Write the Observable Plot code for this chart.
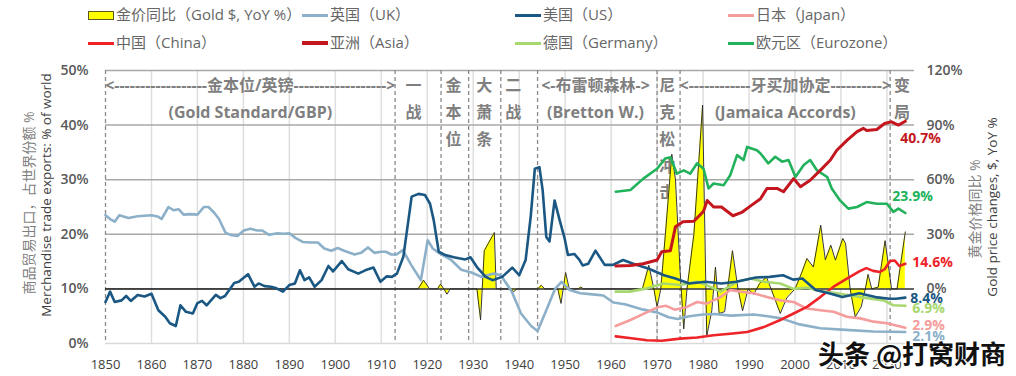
<!DOCTYPE html>
<html>
<head>
<meta charset="utf-8">
<script src="https://cdn.jsdelivr.net/npm/d3@7"></script>
<script src="https://cdn.jsdelivr.net/npm/@observablehq/plot@0.6"></script>
<style>
  body { margin: 0; background: #fff; font-family: "Open Sans", "Noto Sans CJK SC", sans-serif; }
  #wrap { position: relative; width: 1016px; height: 376px; overflow: hidden; }
  #legend { position: relative; height: 56px; }
  .li { position: absolute; font-size: 15px; color: #666; white-space: nowrap; line-height: 18px; }
  .sw { position: absolute; }
  #wm { position: absolute; left: 818px; top: 334px; font-size: 26px; color: #111; font-family: "Noto Sans CJK SC", sans-serif; font-weight: 700;
        text-shadow: -1px -1px 0 #fff, 1px -1px 0 #fff, -1px 1px 0 #fff, 1px 1px 0 #fff; white-space: nowrap; }
</style>
</head>
<body>
<div id="wrap">
  <div id="legend"></div>
  <div id="chart"></div>
  <div id="wm">头条 @打窝财商</div>
</div>
<script>
// ---------- data (share of world merchandise exports, %) ----------
const UK = [[1850,23.5],[1851,22.8],[1852,22.3],[1853,23.5],[1855,23.0],[1857,23.3],[1860,23.5],[1861.5,23.2],[1862.2,22.8],[1863.7,25.0],[1864.8,24.4],[1865.9,24.6],[1867,23.6],[1868.5,23.7],[1870,23.6],[1871.4,25.0],[1872.4,25.0],[1873.6,24.0],[1874.7,22.8],[1876.1,20.3],[1877.2,19.9],[1878.7,19.7],[1880.1,20.7],[1881.5,21.0],[1883,20.7],[1884.1,20.7],[1885.6,19.9],[1887.4,20.2],[1888.8,20.1],[1890,20.2],[1891.4,19.3],[1892.9,18.6],[1894.7,18.5],[1896.2,18.5],[1897.6,17.4],[1899.1,17.0],[1900.5,17.5],[1901.9,17.0],[1904.2,16.3],[1905.6,16.6],[1907.1,17.6],[1908.5,16.6],[1909.9,16.8],[1911,16.8],[1912.2,16.3],[1913.3,16.3],[1914.7,17.1],[1916.5,14.4],[1918.6,11.6],[1920.1,18.9],[1921.2,17.4],[1922.7,16.5],[1925.2,15.3],[1927.4,13.5],[1929.6,13.0],[1931.8,12.2],[1934.5,12.8],[1936,12.5],[1938.4,9.5],[1940.4,5.5],[1942.6,3.2],[1944,2.3],[1946.3,6.9],[1947.8,10.0],[1949.2,11.3],[1951,9.8],[1953.3,9.2],[1956,9.0],[1958.3,8.8],[1960.5,7.5],[1963,7.2],[1967,6.2],[1970,5.7],[1972.5,4.8],[1974.5,4.5],[1977,5.0],[1980,5.3],[1982.5,5.4],[1986,5.1],[1991,5.3],[1994,5.0],[1997,4.6],[2001,3.5],[2005.5,2.8],[2011,2.5],[2017,2.2],[2024,2.1]];

const US = [[1850,7.6],[1851,9.5],[1852,7.6],[1853.5,7.9],[1854.5,8.7],[1855.5,7.8],[1857,8.9],[1858.5,8.6],[1860,9.1],[1861.5,6.1],[1863,4.9],[1864,3.7],[1865.3,3.2],[1866.3,7.0],[1867.5,5.8],[1869,5.5],[1870,7.4],[1871,7.8],[1872,7.0],[1874,8.9],[1875,8.3],[1876,8.7],[1878,11.1],[1879,11.3],[1881,12.7],[1882.4,10.4],[1883.3,11.0],[1884.6,10.5],[1886,10.4],[1887.2,10.1],[1888.6,9.5],[1890,10.7],[1891.2,11.0],[1892.3,13.4],[1893.3,11.6],[1894.3,12.1],[1895.5,10.4],[1897,11.6],[1898.5,14.2],[1899.5,13.2],[1901.4,15.1],[1902.8,13.6],[1905,12.8],[1906.5,13.4],[1908.3,13.9],[1909.8,11.3],[1911.2,12.3],[1912.3,12.2],[1913.4,12.8],[1914.8,15.9],[1915.9,22.6],[1916.6,26.9],[1918.1,27.4],[1919.5,27.2],[1920.6,25.6],[1921.4,22.6],[1922.5,16.8],[1923.9,16.2],[1925.8,15.8],[1926.9,15.6],[1928.3,15.4],[1929.4,15.8],[1930.8,14.0],[1932.7,12.2],[1934.2,11.6],[1936.3,12.2],[1938.5,13.9],[1940,12.5],[1941.4,15.3],[1942.5,23.2],[1943.4,32.0],[1944.4,32.3],[1945.1,28.1],[1945.9,19.5],[1946.6,18.7],[1947.7,26.2],[1948.8,22.6],[1949.9,19.2],[1950.6,16.2],[1952,16.4],[1953.1,15.3],[1953.8,14.3],[1955,14.6],[1956.6,17.0],[1958.6,14.4],[1960.4,14.4],[1962.6,15.3],[1964.8,14.6],[1968.2,13.7],[1971.5,12.5],[1974,11.9],[1977,11.0],[1980.5,11.3],[1984,11.0],[1987.2,11.3],[1991.5,12.1],[1994.5,12.2],[1997.4,12.5],[1999.6,11.7],[2001.6,11.9],[2004.5,9.8],[2007.4,9.2],[2010.3,8.5],[2014,9.2],[2017.5,8.5],[2020.5,8.2],[2022,8.2],[2024,8.4]];

const JAPAN = [[1961,3.2],[1964.2,4.3],[1967.5,5.6],[1970.3,6.7],[1972,6.9],[1973.8,6.2],[1976.5,6.7],[1978.7,7.6],[1980.8,7.3],[1983.8,8.5],[1985.9,9.8],[1988.1,9.5],[1991,9.2],[1993.9,8.5],[1996.8,7.9],[1999.7,7.6],[2002.6,6.4],[2005.5,6.1],[2008.4,5.8],[2011.3,4.9],[2014.2,4.6],[2017.1,4.0],[2020,3.7],[2024,2.9]];

const CHINA = [[1961,1.3],[1964,1.0],[1967.8,0.6],[1971,0.5],[1975,0.9],[1978.7,1.1],[1982.3,1.5],[1985.9,1.8],[1989.6,2.1],[1993.2,3.0],[1996.8,4.3],[1999.7,5.5],[2002.6,6.7],[2005.5,8.5],[2008.4,10.4],[2011.3,11.9],[2014,13.2],[2015.5,13.8],[2017,13.3],[2018.5,13.1],[2019.5,13.6],[2020.7,15.1],[2021.7,15.2],[2022.7,14.2],[2024,14.6]];

const ASIA = [[1961,14.2],[1964.2,14.3],[1967,14.6],[1970,15.3],[1971,16.8],[1972.9,17.0],[1974,21.4],[1975.6,22.3],[1978,22.4],[1980.1,24.2],[1980.9,26.2],[1982.3,25.0],[1984,25.0],[1986.5,23.4],[1988.4,24.0],[1990.5,25.3],[1992.5,26.5],[1993.9,28.4],[1996.1,28.4],[1997.5,27.8],[1999.7,30.2],[2001.2,28.7],[2003.3,29.9],[2005.5,31.7],[2007.7,33.6],[2009.1,35.4],[2011.3,37.2],[2013.5,38.8],[2014.9,39.4],[2015.6,39.0],[2017.8,39.2],[2019.5,40.3],[2021,40.6],[2022.5,40.0],[2024,40.7]];

const GERMANY = [[1961,9.5],[1964,9.5],[1967.8,10.1],[1971.4,11.0],[1975,10.7],[1978.7,11.3],[1980.8,10.7],[1983.8,9.5],[1987.4,11.3],[1990.3,11.9],[1993.2,11.3],[1996.8,11.0],[1999.7,10.0],[2002.6,10.2],[2005.5,9.6],[2009.1,9.2],[2014.2,8.5],[2019.3,7.9],[2021.4,7.0],[2024,6.9]];

const EUROZONE = [[1961,27.8],[1964.2,28.1],[1967,30.2],[1970,32.0],[1971.8,33.9],[1972.9,34.1],[1974.3,31.1],[1975.8,31.7],[1977.2,31.1],[1978.7,33.0],[1980.1,32.0],[1981.2,28.4],[1982.3,29.3],[1984.5,29.0],[1985.9,30.8],[1987.4,34.5],[1988.8,33.6],[1989.6,36.0],[1991.7,35.4],[1992.5,34.8],[1994.2,33.0],[1995.7,34.2],[1997.2,33.3],[1998.6,33.6],[2000.1,30.5],[2001.9,32.7],[2003.3,33.6],[2004.8,31.7],[2007,30.5],[2008,28.4],[2009.8,26.2],[2011.6,24.7],[2013.5,25.0],[2015.6,25.9],[2017.8,25.6],[2020,25.6],[2021.4,24.1],[2022.5,24.7],[2024,23.9]];

// gold price change, $, YoY % (right axis)
const GOLD = [[1850,0],[1918,0],[1919.2,4.8],[1920.5,0],[1922.2,0],[1922.9,2.6],[1923.6,0],[1924.3,-2.9],[1925,0],[1930.8,0],[1931.6,-17],[1932.4,21],[1934.6,31],[1935,0],[1938.2,0],[1938.8,-1.6],[1939.5,0],[1944,0],[1944.8,2],[1945.6,0],[1948.4,0],[1949.1,-8],[1950.1,9],[1950.9,0],[1952.8,0],[1953.4,1],[1954,0],[1966.8,0],[1968.2,13],[1969.3,0],[1970,-10],[1970.8,0],[1971.8,30],[1973.2,74],[1974,60],[1975,10],[1975.8,-22],[1976.5,0],[1978,30],[1979.9,101],[1980.8,-26],[1981.9,-12],[1982.7,12],[1983.5,-13.5],[1984.7,-12.5],[1986.4,21],[1987.6,0],[1988.6,-12],[1989.8,0],[1991,-3],[1992.3,3],[1993.8,6.5],[1994.8,0],[1996.8,-13.5],[1998.2,-5],[2000,0],[2001.4,8.5],[2002.6,16.7],[2004,12],[2005.6,35],[2006.6,16],[2007.8,24],[2008.8,15.8],[2010.4,27.7],[2011,25],[2012,0],[2013.1,-15.4],[2014.4,-9.9],[2015.3,0],[2015.9,8],[2016.7,0],[2018.1,1],[2019.6,26.5],[2021,0],[2022.2,0],[2024,31.3]];

const leftTicks = [0, 10, 20, 30, 40, 50];
const rightTicks = [0, 30, 60, 90, 120];
const yearTicks = [1850,1860,1870,1880,1890,1900,1910,1920,1930,1940,1950,1960,1970,1980,1990,2000,2010,2020];
const epochYears = [1850, 1913, 1923, 1929, 1936, 1944, 1970, 1975, 2020.7];

const eraSpans = [
  [1881.5, "<------------------金本位/英镑------------------>", "(Gold Standard/GBP)"],
  [1956.6, "<-布雷顿森林->", "(Bretton W.)"],
  [1997.9, "<------------牙买加协定---------->", "(Jamaica Accords)"]
];
const eraColumns = [[1917, "一战"], [1925.7, "金本位"], [1932.4, "大萧条"], [1938.7, "二战"], [1972.2, "尼克松冲击"], [2023.3, "变局"]];

const seriesNames = ["金价同比（Gold $, YoY %）","英国（UK）","美国（US）","日本（Japan）","中国（China）","亚洲（Asia）","德国（Germany）","欧元区（Eurozone）"];
const seriesColors = ["#ffff00","#8db0c9","#1a5783","#f59c9c","#ee2328","#c3161e","#a7d76f","#21b25b"];
const endLabels = ["40.7%","23.9%","14.6%","8.4%","6.9%","2.9%","2.1%"];

// ---------- legend ----------
const legend = document.getElementById("legend");
const colX = [88, 302, 515, 728], rowY = [15, 43];
seriesNames.forEach((name, i) => {
  const cx = colX[i % 4], cy = rowY[Math.floor(i / 4)];
  const sw = document.createElement("div");
  sw.className = "sw";
  if (i === 0) {
    Object.assign(sw.style, {left: cx + "px", top: (cy - 4) + "px", width: "24px", height: "7px", background: seriesColors[0], border: "1px solid #5a5a20"});
  } else {
    const th = i === 5 ? 4 : 3;
    Object.assign(sw.style, {left: cx + "px", top: (cy - th / 2) + "px", width: "26px", height: th + "px", background: seriesColors[i]});
  }
  legend.appendChild(sw);
  const t = document.createElement("div");
  t.className = "li";
  t.textContent = name;
  Object.assign(t.style, {left: (cx + 28) + "px", top: (cy - 10) + "px"});
  legend.appendChild(t);
});

// ---------- chart ----------
const rightToLeft = r => 10 + r / 3;          // secondary axis mapping
const annRow = r => 47.1 - 4.9 * r;
const F = '"Open Sans","Noto Sans CJK SC",sans-serif';

const colChars = eraColumns.flatMap(([yr, s]) => Array.from(s).map((ch, k) => ({yr, ch, k})));
const spanRows = eraSpans.flatMap(([yr, a, b]) => [{yr, t: a, k: 0}, {yr, t: b, k: 1}]);

const lines = [
  [UK, 1], [JAPAN, 3], [CHINA, 4], [GERMANY, 6], [US, 2], [EUROZONE, 7], [ASIA, 5]
];
const ends = [
  {s: ASIA, c: 5, dx: -5, dy: 17},
  {s: EUROZONE, c: 7, dx: -13, dy: -16},
  {s: CHINA, c: 4, dx: 7, dy: -1},
  {s: US, c: 2, dx: 5, dy: 1},
  {s: GERMANY, c: 6, dx: 7, dy: 3},
  {s: JAPAN, c: 3, dx: 7, dy: -2},
  {s: UK, c: 1, dx: 7, dy: 4}
];

const marks = [
  Plot.ruleX(yearTicks.slice(1), {stroke: "#dedede", strokeWidth: 1.5}),
  Plot.ruleY([0], {stroke: "#d9d9d9", strokeWidth: 1.5}),
  Plot.ruleY([20, 30, 40, 50], {stroke: "#a8a8a8", strokeWidth: 1.5}),
  Plot.ruleX(epochYears, {stroke: "#8a8a8a", strokeWidth: 1.3, strokeDasharray: "4,3"}),
  Plot.text(spanRows, {x: "yr", y: d => annRow(d.k), text: "t", fill: "#7f7f7f", fontWeight: "bold", fontSize: 16}),
  Plot.text(colChars, {x: "yr", y: d => annRow(d.k), text: "ch", fill: "#7f7f7f", fontWeight: "bold", fontSize: 16}),
  Plot.areaY(GOLD, {x: d => d[0], y1: 10, y2: d => rightToLeft(d[1]), fill: seriesColors[0]}),
  Plot.ruleY([10], {stroke: "#333", strokeWidth: 1.5}),
  Plot.lineY(GOLD, {x: d => d[0], y: d => rightToLeft(d[1]), stroke: "#222", strokeWidth: 0.9})
];
for (const [s, c] of lines) {
  marks.push(Plot.lineY(s, {x: d => d[0], y: d => d[1], stroke: seriesColors[c], strokeWidth: c === 5 ? 3 : 2.6, strokeLinejoin: "round"}));
}
ends.forEach((e, i) => {
  const last = e.s[e.s.length - 1];
  marks.push(Plot.text([last], {x: d => d[0], y: d => d[1], text: () => endLabels[i], dx: e.dx, dy: e.dy, textAnchor: "start", fill: seriesColors[e.c], fontWeight: "bold", fontSize: 14}));
});
marks.push(
  Plot.axisY(leftTicks, {anchor: "left", tickFormat: d => d + "%", tickSize: 0, tickPadding: 17, fontSize: 14, fontWeight: 600, color: "#595959", label: null}),
  Plot.axisY(rightTicks.map(rightToLeft), {anchor: "right", tickFormat: d => Math.round((d - 10) * 3) + "%", tickSize: 0, tickPadding: 12, fontSize: 14, fontWeight: 600, color: "#595959", label: null}),
  Plot.axisX(yearTicks, {tickFormat: d => String(d), tickSize: 0, tickPadding: 16, fontSize: 13, color: "#404040", label: null}),
  Plot.text(["商品贸易出口，占世界份额 %"], {frameAnchor: "left", textAnchor: "middle", dx: -76, dy: -4, rotate: -90, text: d => d, fill: "#7f7f7f", fontSize: 14}),
  Plot.text(["Merchandise trade exports: % of world"], {frameAnchor: "left", textAnchor: "middle", dx: -59, dy: -12, rotate: -90, text: d => d, fill: "#404040", fontSize: 13.5}),
  Plot.text(["黄金价格同比 %"], {frameAnchor: "right", textAnchor: "middle", dx: 61, dy: 2, rotate: -90, text: d => d, fill: "#7f7f7f", fontSize: 14}),
  Plot.text(["Gold price changes, $, YoY %"], {frameAnchor: "right", textAnchor: "middle", dx: 78, dy: 0, rotate: -90, text: d => d, fill: "#404040", fontSize: 13.5})
);

const chart = Plot.plot({
  width: 1016,
  height: 320,
  marginTop: 14,
  marginBottom: 33,
  marginLeft: 105,
  marginRight: 102,
  style: {fontFamily: F, fontSize: "14px", background: "#fff", overflow: "visible"},
  x: {domain: [1850, 2026], axis: null},
  y: {domain: [0, 50], axis: null},
  marks
});
document.getElementById("chart").appendChild(chart);
</script>
</body>
</html>
